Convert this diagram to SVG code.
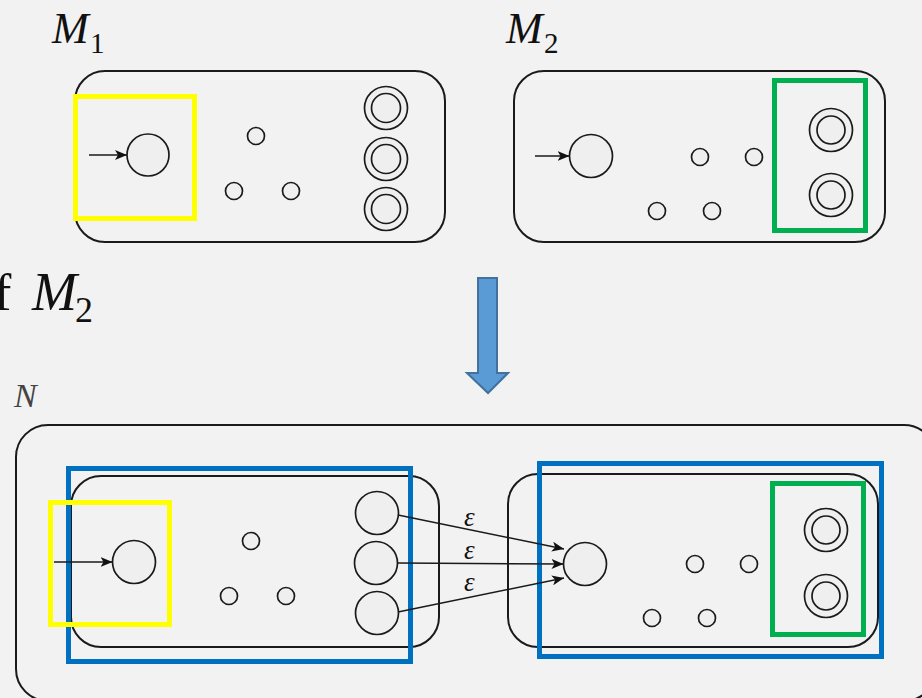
<svg xmlns="http://www.w3.org/2000/svg" width="922" height="698" viewBox="0 0 922 698">
<defs>
<marker id="ah" viewBox="0 0 12 10" refX="12" refY="5" markerWidth="12" markerHeight="10" markerUnits="userSpaceOnUse" orient="auto">
<path d="M0,0 L12,5 L0,10 L3,5 Z" fill="#111"/>
</marker>
<style>
.box{fill:none;stroke:#1a1a1a;stroke-width:2}
.st{fill:#efefef;stroke:#1a1a1a;stroke-width:1.7}
.dot{fill:#efefef;stroke:#1a1a1a;stroke-width:1.7}
.edge{fill:none;stroke:#1a1a1a;stroke-width:1.5}
.yel{fill:none;stroke:#ffff00;stroke-width:5}
.grn{fill:none;stroke:#00b050;stroke-width:5}
.blu{fill:none;stroke:#0070c0;stroke-width:5}
.mt{font-family:"Liberation Serif","DejaVu Serif",serif;font-style:italic;fill:#111}
.sub{font-family:"Liberation Serif","DejaVu Serif",serif;fill:#111}
.eps{font-family:"Liberation Serif","DejaVu Serif",serif;font-style:italic;font-size:27px;fill:#111}
</style>
</defs>
<rect width="922" height="698" fill="#f2f2f2"/>

<!-- labels -->
<g id="label-M1"><text class="mt" x="52" y="43" font-size="44">M</text><text class="sub" x="90" y="53" font-size="29">1</text></g>
<g id="label-M2"><text class="mt" x="506" y="43" font-size="44">M</text><text class="sub" x="544" y="53" font-size="29">2</text></g>
<g id="label-ofM2"><text class="sub" x="-6" y="310" font-size="52">f</text><text class="mt" x="32" y="310" font-size="54">M</text><text class="sub" x="75" y="322" font-size="36">2</text></g>
<g id="label-N"><text x="14" y="407" font-size="34" font-family="Liberation Serif, DejaVu Serif, serif" font-style="italic" fill="#444">N</text></g>

<!-- M1 -->
<g id="M1">
<rect class="box" x="75" y="71" width="370" height="171" rx="30"/>
<circle class="st" cx="148" cy="155" r="21"/>
<circle class="dot" cx="256" cy="136" r="8.5"/>
<circle class="dot" cx="234" cy="191" r="8.5"/>
<circle class="dot" cx="291" cy="191" r="8.5"/>
<circle class="st" cx="386" cy="108" r="21.5"/><circle class="st" cx="386" cy="108" r="14.5"/>
<circle class="st" cx="386" cy="159" r="21.5"/><circle class="st" cx="386" cy="159" r="14.5"/>
<circle class="st" cx="386" cy="209" r="21.5"/><circle class="st" cx="386" cy="209" r="14.5"/>
<rect class="yel" x="75.5" y="96.5" width="119" height="122"/>
</g>

<!-- M2 -->
<g id="M2">
<rect class="box" x="514" y="71" width="371" height="171" rx="30"/>
<circle class="st" cx="591" cy="156" r="21.5"/>
<circle class="dot" cx="700" cy="157" r="8.5"/>
<circle class="dot" cx="754" cy="157" r="8.5"/>
<circle class="dot" cx="657" cy="211" r="8.5"/>
<circle class="dot" cx="712" cy="211" r="8.5"/>
<circle class="st" cx="831" cy="130" r="21.5"/><circle class="st" cx="831" cy="130" r="14"/>
<circle class="st" cx="831" cy="195" r="21.5"/><circle class="st" cx="831" cy="195" r="14"/>
<rect class="grn" x="774.5" y="80.5" width="91" height="150"/>
</g>

<!-- big arrow -->
<g id="down-arrow">
<polygon points="478,278 497,278 497,373 508,373 488,393 467,373 478,373" fill="#5b9bd5" stroke="#41719c" stroke-width="2"/>
</g>

<!-- N -->
<g id="N">
<rect class="box" x="16" y="425" width="920" height="276" rx="32"/>
</g>

<g id="N-M1">
<rect class="box" x="71" y="476" width="368" height="171" rx="30"/>
<circle class="st" cx="134" cy="562" r="21.5"/>
<circle class="dot" cx="251" cy="541" r="8.5"/>
<circle class="dot" cx="229" cy="596" r="8.5"/>
<circle class="dot" cx="286" cy="596" r="8.5"/>
<circle class="st" cx="377" cy="513" r="21.5"/>
<circle class="st" cx="376" cy="563" r="21.5"/>
<circle class="st" cx="377" cy="613" r="21.5"/>
<rect class="blu" x="68.5" y="468.5" width="342" height="193"/>
<rect class="yel" x="50.5" y="502.5" width="119" height="122"/>
</g>

<g id="N-M2">
<rect class="box" x="508" y="474" width="370" height="173" rx="30"/>
<circle class="st" cx="585" cy="564" r="21.5"/>
<circle class="dot" cx="695" cy="564" r="8.5"/>
<circle class="dot" cx="749" cy="564" r="8.5"/>
<circle class="dot" cx="652" cy="618" r="8.5"/>
<circle class="dot" cx="707" cy="618" r="8.5"/>
<circle class="st" cx="826" cy="530" r="21.5"/><circle class="st" cx="826" cy="530" r="14"/>
<circle class="st" cx="826" cy="596" r="21.5"/><circle class="st" cx="826" cy="596" r="14"/>
<rect class="blu" x="539.5" y="463.5" width="342" height="193"/>
<rect class="grn" x="772.5" y="483.5" width="91" height="151"/>
</g>

<!-- connectors -->
<g id="connectors">
<line class="edge" x1="89" y1="155" x2="127" y2="155" marker-end="url(#ah)"/>
<line class="edge" x1="535" y1="156" x2="569.5" y2="156" marker-end="url(#ah)"/>
<line class="edge" x1="54" y1="562" x2="112.5" y2="562" marker-end="url(#ah)"/>
<line class="edge" x1="398" y1="515" x2="564" y2="549" marker-end="url(#ah)"/>
<line class="edge" x1="397.5" y1="563" x2="563.5" y2="564" marker-end="url(#ah)"/>
<line class="edge" x1="398" y1="612" x2="564" y2="578" marker-end="url(#ah)"/>
<text class="eps" x="464" y="526">ε</text>
<text class="eps" x="464" y="559">ε</text>
<text class="eps" x="464" y="591">ε</text>
</g>
</svg>
